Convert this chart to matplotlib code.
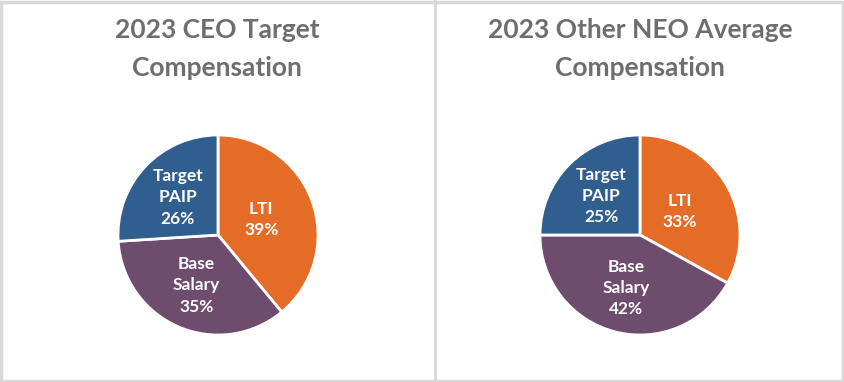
import numpy as np
import matplotlib.pyplot as plt
from matplotlib.patches import Rectangle

# Chart data
categories = ['LTI', 'Base\nSalary', 'Target\nPAIP']
ceo_values = [39, 35, 26]
neo_values = [33, 42, 25]
titles = ['2023 CEO Target\nCompensation', '2023 Other NEO Average\nCompensation']

colors = ['#E46C26', '#6D4C6E', '#2F5E8F']
title_color = '#6E6E6E'
border_color = '#D9D9D9'

W, H = 845, 382
fig = plt.figure(figsize=(W / 100, H / 100), dpi=100)
fig.patch.set_facecolor('white')

def draw_pie(cx, cy, r, values, title, title_x):
    # axes placed so the pie has radius r px centred at (cx, cy) px from top-left
    ax = fig.add_axes([(cx - r) / W, 1 - (cy + r) / H, 2 * r / W, 2 * r / H])
    wedges, _ = ax.pie(values, colors=colors, startangle=90, counterclock=False,
                       radius=1.0, wedgeprops=dict(edgecolor='white', linewidth=2))
    ax.set_xlim(-1.02, 1.02)
    ax.set_ylim(-1.02, 1.02)
    ax.set_aspect('equal')
    ax.axis('off')
    for w, cat, v in zip(wedges, categories, values):
        ang = np.deg2rad((w.theta1 + w.theta2) / 2)
        d = 0.46 if cat == 'LTI' else 0.55
        ax.text(d * np.cos(ang), d * np.sin(ang), f'{cat}\n{v}%',
                ha='center', va='center', color='white', fontsize=12.5,
                fontweight='bold', family='Lato', linespacing=1.4)
    fig.text(title_x / W, 1 - 49 / H, title, ha='center', va='center',
             fontsize=19, fontweight='bold', color=title_color, family='Lato',
             linespacing=1.7)

draw_pie(218, 235, 102, ceo_values, titles[0], 217)
draw_pie(640, 235, 102, neo_values, titles[1], 640)

# panel borders
fig.add_artist(Rectangle((1.5 / W, 1.5 / H), (W - 3) / W, (H - 3) / H,
                         transform=fig.transFigure, fill=False,
                         edgecolor=border_color, linewidth=2.5))
fig.add_artist(plt.Line2D([435 / W, 435 / W], [0, 1], transform=fig.transFigure,
                          color=border_color, linewidth=2))

fig.savefig('out.png', dpi=100)
